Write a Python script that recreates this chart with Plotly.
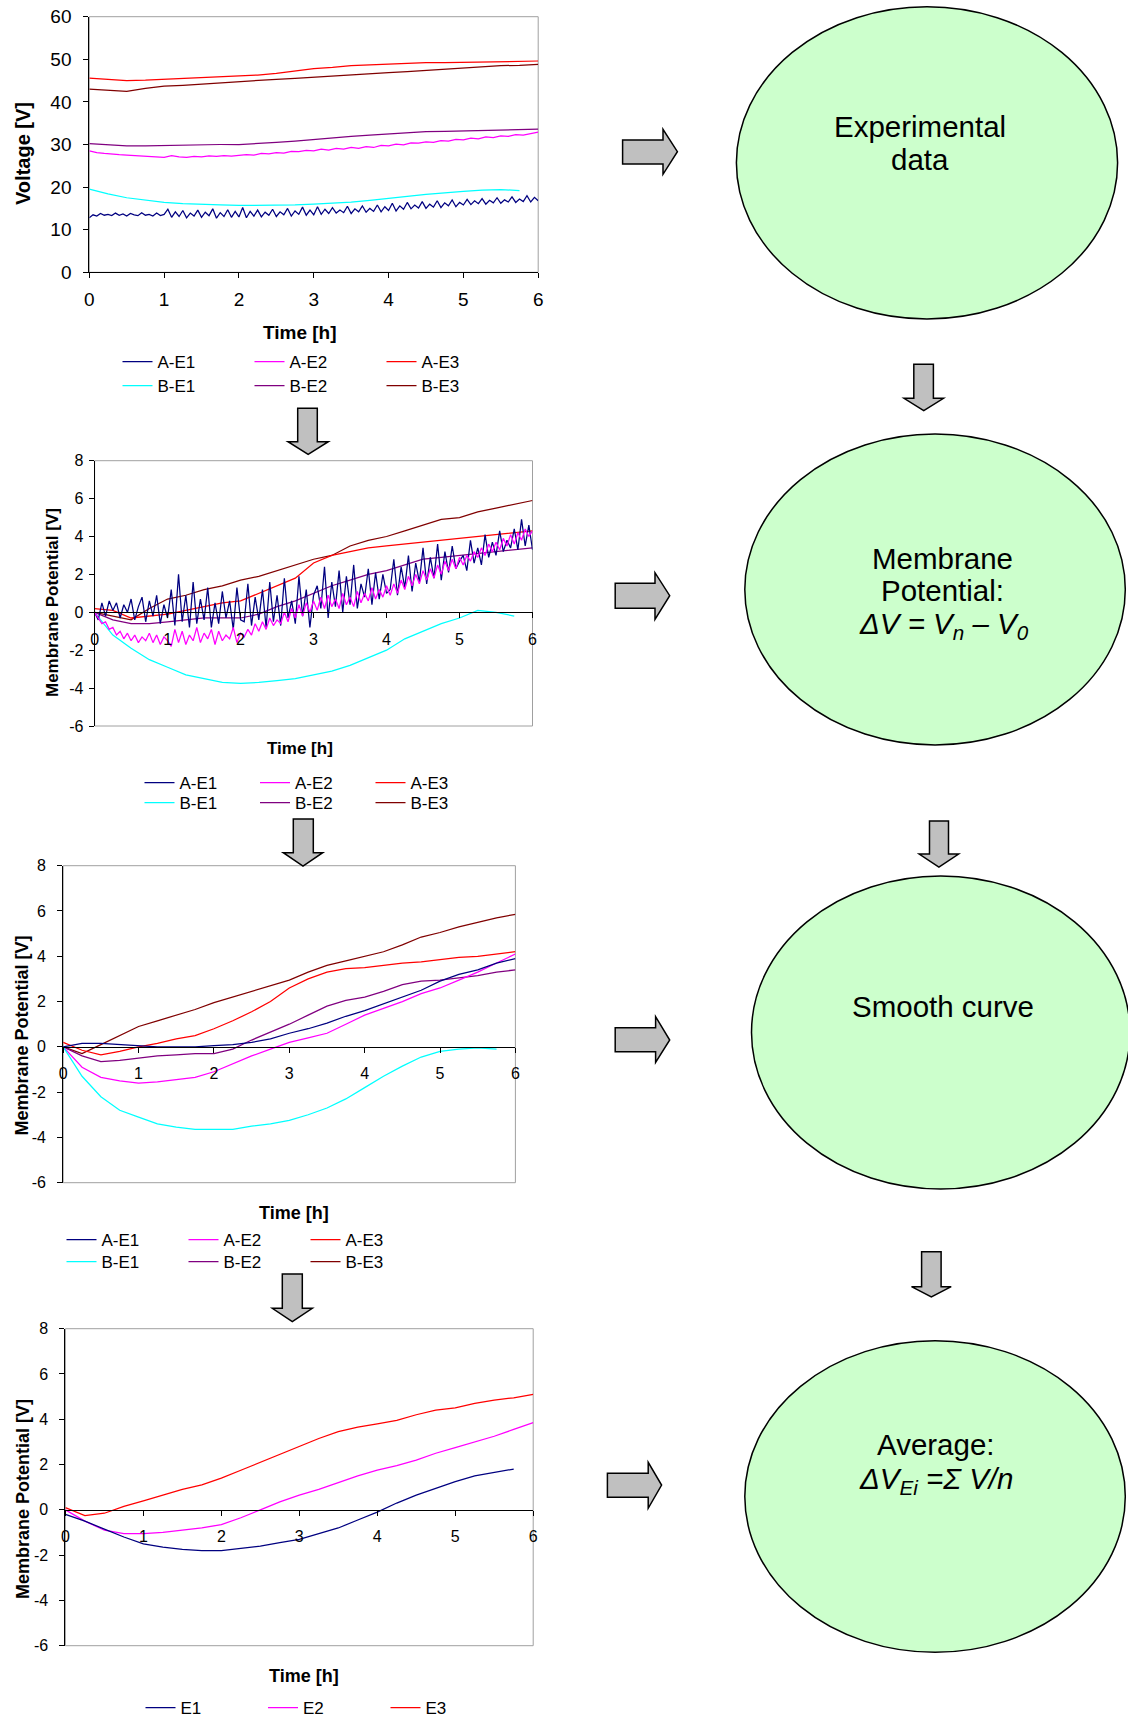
import numpy as np
import plotly.graph_objects as go

W, H = 1128, 1726
FONT = "Liberation Sans, Arial, sans-serif"

# ---------------- data ----------------
T25 = [0, 0.25, 0.5, 0.75, 1, 1.25, 1.5, 1.75, 2, 2.25, 2.5, 2.75, 3,
       3.25, 3.5, 3.75, 4, 4.25, 4.5, 4.75, 5, 5.25, 5.5, 5.75, 6]
T24 = T25[:24]  # series that end at 5.75 h

X_TICKS = [0, 1, 2, 3, 4, 5, 6]
V_TICKS = [0, 10, 20, 30, 40, 50, 60]
MP_TICKS = [-6, -4, -2, 0, 2, 4, 6, 8]
MP_TICK_LABELS = ["-6", "-4", "-2", "0", "2", "4", "6", "8"]

SERIES = ["A-E1", "A-E2", "A-E3", "B-E1", "B-E2", "B-E3"]
AVG_SERIES = ["E1", "E2", "E3"]
COLORS = {"A-E1": "#000080", "A-E2": "#FF00FF", "A-E3": "#FF0000",
          "B-E1": "#00FFFF", "B-E2": "#800080", "B-E3": "#800000",
          "E1": "#000080", "E2": "#FF00FF", "E3": "#FF0000"}

# Chart 1 : raw voltage [V]
v_AE1 = [12.8, 13.5, 13.2, 13.8, 13.4, 13.6, 13.3, 13.9, 13.4, 13.7, 13.2, 13.8, 13.5, 13.3, 14.0, 13.4, 13.6, 13.2, 13.9, 13.3, 13.6,
         14.8, 12.9, 14.2, 13.1, 14.5, 12.8, 13.9, 13.2, 14.6, 12.9, 14.1, 13.3, 14.9, 12.7, 14.0, 13.1, 14.7, 12.9, 14.3, 13.0,
         15.2, 12.8, 14.3, 13.2, 14.6, 13.0, 14.1, 13.4, 14.8, 13.1, 14.2, 13.5, 15.0, 13.2, 14.4, 13.6, 15.3, 13.4, 14.6, 13.5,
         15.4, 13.6, 14.8, 13.8, 15.2, 13.9, 14.6, 14.0, 15.5, 13.8, 14.9, 14.2, 15.6, 14.1, 15.0, 14.3, 15.8, 14.2, 15.4, 14.5,
         16.2, 14.4, 15.6, 14.8, 16.4, 14.9, 15.8, 15.1, 16.6, 15.0, 16.0, 15.3, 16.8, 15.2, 16.3, 15.6, 17.0, 15.4, 16.4, 15.8,
         17.1, 15.9, 16.8, 16.1, 17.3, 16.0, 16.9, 16.3, 17.5, 16.2, 17.0, 16.5, 17.7, 16.4, 17.2, 16.6, 18.0, 16.5, 17.6, 16.8]
v_AE2 = [28.5, 28.1, 27.9, 27.7, 27.6, 27.5, 27.4, 27.3, 27.2, 27.1, 27.0, 27.4, 27.1, 27.0, 27.2, 27.1, 27.3, 27.2, 27.4, 27.3, 27.4,
         27.6, 27.5, 27.9, 27.8, 28.1, 28.0, 28.4, 28.3, 28.6, 28.5,
         28.9, 28.7, 29.1, 28.9, 29.3, 29.1, 29.5, 29.3, 29.8, 29.7,
         30.1, 29.9, 30.4, 30.3, 30.6, 30.5, 30.9, 30.8, 31.2, 31.1,
         31.5, 31.3, 31.8, 31.6, 32.0, 31.9, 32.3, 32.2, 32.6, 32.9]
v_AE3 = [45.6, 45.3, 45.0, 45.1, 45.3, 45.4, 45.6, 45.8, 46.0, 46.3, 46.7, 47.2, 47.8,
         48.1, 48.5, 48.7, 48.9, 49.0, 49.2, 49.2, 49.3, 49.4, 49.4, 49.5, 49.6]
v_BE1 = [19.5, 18.4, 17.5, 16.9, 16.4, 16.1, 15.9, 15.8, 15.7, 15.7, 15.7, 15.8,
         16.0, 16.2, 16.5, 16.9, 17.3, 17.8, 18.3, 18.7, 19.0, 19.3, 19.4, 19.2]
v_BE2 = [30.2, 29.9, 29.7, 29.7, 29.8, 29.9, 29.9, 30.0, 30.0, 30.2, 30.5, 30.8, 31.2,
         31.5, 31.9, 32.2, 32.5, 32.7, 33.0, 33.1, 33.2, 33.3, 33.4, 33.5, 33.6]
v_BE3 = [43.0, 42.8, 42.5, 43.2, 43.7, 43.9, 44.2, 44.5, 44.8, 45.0, 45.3, 45.5, 45.8,
         46.1, 46.4, 46.6, 46.9, 47.1, 47.4, 47.7, 48.0, 48.2, 48.5, 48.6, 48.8]

# Chart 2 : membrane potential dV = Vn - V0 [V]
m_AE1 = [0, -0.4, 0.5, -0.2, 0.6, 0.1, 0.5, -0.3, 0.4, 0.0, 0.7, -0.4, 0.3, 0.8, -0.5, 0.6, -0.2, 0.9, -0.6, 0.4, -0.3,
         1.2, -0.7, 2.0, -0.5, 0.9, -0.8, 1.6, -0.6, 0.7, -0.4, 1.3, -0.8, 0.5, -0.6, 1.1, -0.3, 0.6, -0.9, 1.3, -0.4,
         -0.5, 1.5, -0.7, 0.8, -0.4, 1.2, -0.8, 1.6, -0.5, 0.9, -0.7, 1.8, -0.3, 0.6, -0.6, 1.9, -0.2, 1.2, -0.8, 0.9,
         1.4, 0.2, 2.4, -0.3, 1.6, 0.3, 2.2, 0.0, 1.9, 0.4, 2.5, 0.2, 1.5, 0.8, 2.3, 0.4, 2.1, 0.7, 2.0, 1.0,
         1.2, 2.8, 0.9, 2.4, 1.3, 3.0, 1.1, 2.6, 1.6, 3.4, 1.5, 2.9, 1.8, 3.6, 1.7, 3.2, 2.1, 3.5, 2.3, 2.7,
         3.0, 2.2, 3.8, 2.6, 3.4, 2.5, 4.1, 2.9, 3.7, 3.0, 4.3, 3.2, 3.8, 3.4, 4.4, 3.3, 4.9, 3.5, 4.6, 3.3]
m_AE2 = [0, -0.3, -0.6, -0.5, -0.9, -0.8, -1.2, -1.0, -1.4, -1.1, -1.5, -1.2, -1.6, -1.3, -1.5, -1.1, -1.6, -1.2, -1.7, -1.3, -1.5,
         -1.8, -0.9, -1.6, -1.0, -1.7, -1.2, -1.5, -0.8, -1.6, -1.1, -1.4, -0.9, -1.7, -1.0, -1.5, -1.2, -1.4, -0.8, -1.6, -1.1,
         -1.3, -0.9, -1.2, -0.6, -1.0, -0.5, -0.9, -0.3, -0.7, -0.4, -0.6, 0.0, -0.5, 0.2, -0.3, 0.4, -0.2, 0.5, 0.0, 0.6,
         0.1, 0.8, 0.2, 0.9, 0.3, 0.7, 0.2, 1.0, 0.4, 0.8, 0.3, 1.1, 0.5, 1.0, 0.6, 1.3, 0.7, 1.2, 0.8, 1.4,
         0.9, 1.5, 1.0, 1.7, 1.2, 1.9, 1.4, 2.0, 1.5, 2.2, 1.7, 2.3, 1.8, 2.5, 2.0, 2.7, 2.2, 2.8, 2.3, 2.9,
         2.5, 3.0, 2.7, 3.2, 2.9, 3.4, 3.0, 3.6, 3.2, 3.7, 3.3, 3.9, 3.5, 4.1, 3.6, 4.2, 3.8, 4.4, 4.0, 4.3]
m_AE3 = [0.2, 0.1, -0.3, -0.2, -0.1, 0.1, 0.3, 0.5, 0.6, 1.0, 1.4, 1.8, 2.6,
         3.0, 3.2, 3.4, 3.5, 3.6, 3.7, 3.8, 3.9, 4.0, 4.1, 4.2, 4.3]
m_BE1 = [0.0, -1.2, -1.9, -2.5, -2.9, -3.3, -3.5, -3.7, -3.75, -3.7, -3.6, -3.5,
         -3.3, -3.1, -2.8, -2.4, -2.0, -1.4, -1.0, -0.6, -0.3, 0.1, 0.0, -0.2]
m_BE2 = [0.0, -0.4, -0.6, -0.6, -0.5, -0.4, -0.3, -0.3, -0.3, -0.1, 0.3, 0.6, 1.0,
         1.4, 1.7, 2.0, 2.2, 2.5, 2.8, 2.9, 3.0, 3.1, 3.2, 3.3, 3.4]
m_BE3 = [0.0, -0.2, -0.4, 0.2, 0.7, 0.9, 1.2, 1.4, 1.7, 1.9, 2.2, 2.5, 2.8,
         3.0, 3.5, 3.8, 4.0, 4.3, 4.6, 4.9, 5.0, 5.3, 5.5, 5.7, 5.9]

# Chart 3 : smoothed membrane potential [V]
s_AE1 = [0.0, 0.15, 0.15, 0.1, 0.05, 0.0, 0.0, 0.0, 0.05, 0.1, 0.2, 0.35, 0.6,
         0.8, 1.05, 1.35, 1.6, 1.9, 2.2, 2.5, 2.9, 3.2, 3.4, 3.7, 3.9]
s_AE2 = [0.0, -0.9, -1.35, -1.5, -1.6, -1.55, -1.45, -1.35, -1.1, -0.75, -0.4, -0.1, 0.2,
         0.4, 0.6, 1.0, 1.4, 1.7, 2.0, 2.35, 2.6, 2.95, 3.3, 3.7, 4.1]
s_AE3 = [0.2, -0.15, -0.35, -0.2, 0.0, 0.15, 0.35, 0.5, 0.8, 1.15, 1.55, 2.0, 2.6,
         3.0, 3.3, 3.45, 3.5, 3.6, 3.7, 3.75, 3.85, 3.95, 4.0, 4.1, 4.2]
s_BE1 = [0.0, -1.3, -2.2, -2.8, -3.1, -3.4, -3.55, -3.65, -3.65, -3.65, -3.5, -3.4,
         -3.25, -3.0, -2.7, -2.3, -1.8, -1.3, -0.85, -0.45, -0.2, -0.1, -0.05, -0.1]
s_BE2 = [0.0, -0.4, -0.65, -0.6, -0.5, -0.4, -0.35, -0.3, -0.3, -0.1, 0.3, 0.65, 1.0,
         1.4, 1.8, 2.05, 2.2, 2.45, 2.75, 2.9, 2.95, 3.05, 3.15, 3.3, 3.4]
s_BE3 = [0.0, -0.3, 0.1, 0.5, 0.9, 1.15, 1.4, 1.65, 1.95, 2.2, 2.45, 2.7, 2.95,
         3.3, 3.6, 3.8, 4.0, 4.2, 4.5, 4.85, 5.05, 5.3, 5.5, 5.7, 5.85]

# Chart 4 : average per electrode [V]
a_E1 = [-0.2, -0.5, -0.85, -1.2, -1.5, -1.65, -1.75, -1.8, -1.8, -1.7, -1.6, -1.45,
        -1.3, -1.05, -0.8, -0.45, -0.1, 0.3, 0.65, 0.95, 1.25, 1.5, 1.65, 1.8]
a_E2 = [0.0, -0.5, -0.9, -1.05, -1.05, -1.0, -0.9, -0.8, -0.65, -0.35, 0.0, 0.35, 0.65,
        0.9, 1.2, 1.5, 1.75, 1.95, 2.2, 2.5, 2.75, 3.0, 3.25, 3.55, 3.85]
a_E3 = [0.1, -0.25, -0.15, 0.15, 0.4, 0.65, 0.9, 1.1, 1.4, 1.75, 2.1, 2.45, 2.8,
        3.15, 3.45, 3.65, 3.8, 3.95, 4.2, 4.4, 4.5, 4.7, 4.85, 4.95, 5.1]

# Flow-diagram step labels (one entry per line)
STEP_LINES = [
    ["Experimental", "data"],
    ["Membrane", "Potential:", "<i>ΔV = V<sub>n</sub> – V<sub>0</sub></i>"],
    ["Smooth curve"],
    ["Average:", "<i>ΔV<sub>Ei</sub> =Σ V/n</i>"],
]


def tgrid(vals, end):
    if len(vals) == 25 and end == 6:
        return T25
    if len(vals) == 24 and end == 5.75:
        return T24
    return list(np.linspace(0, end, len(vals)))


CHART_DATA = [
    {"A-E1": (v_AE1, 6), "A-E2": (v_AE2, 6), "A-E3": (v_AE3, 6),
     "B-E1": (v_BE1, 5.75), "B-E2": (v_BE2, 6), "B-E3": (v_BE3, 6)},
    {"A-E1": (m_AE1, 6), "A-E2": (m_AE2, 6), "A-E3": (m_AE3, 6),
     "B-E1": (m_BE1, 5.75), "B-E2": (m_BE2, 6), "B-E3": (m_BE3, 6)},
    {"A-E1": (s_AE1, 6), "A-E2": (s_AE2, 6), "A-E3": (s_AE3, 6),
     "B-E1": (s_BE1, 5.75), "B-E2": (s_BE2, 6), "B-E3": (s_BE3, 6)},
    {"E1": (a_E1, 5.75), "E2": (a_E2, 6), "E3": (a_E3, 6)},
]
# drawing order (back to front)
DRAW_ORDER = [
    ["B-E3", "A-E3", "B-E2", "A-E2", "B-E1", "A-E1"],
    ["B-E3", "A-E3", "B-E2", "B-E1", "A-E1", "A-E2"],
    ["B-E3", "A-E3", "B-E2", "A-E2", "B-E1", "A-E1"],
    ["E3", "E2", "E1"],
]


def px(x):
    return x / W


def py(y):
    return 1 - y / H


# ---------------- layout geometry (pixels) ----------------
CHARTS = [
    dict(box=(89.3, 16.7, 538.2, 272.3), yr=(0, 60), yt=(V_TICKS, [str(v) for v in V_TICKS]),
         tf=19, free=False, ystand=8, xstand=5,
         ytitle=("Voltage [V]", 23, 154, 20), xtitle=("Time [h]", 300, 332, 19),
         legrows=[(["A-E1", "A-E2", "A-E3"], 362), (["B-E1", "B-E2", "B-E3"], 386)],
         legx=122.5, legstride=132),
    dict(box=(94.6, 460.7, 532.5, 726), yr=(-6, 8), yt=(MP_TICKS, MP_TICK_LABELS),
         tf=16, free=True, ystand=2, xstand=7,
         ytitle=("Membrane Potential [V]", 52, 603, 17), xtitle=("Time [h]", 300, 748, 17),
         legrows=[(["A-E1", "A-E2", "A-E3"], 783), (["B-E1", "B-E2", "B-E3"], 803)],
         legx=144.5, legstride=115.5),
    dict(box=(63.2, 865.7, 515.4, 1182.7), yr=(-6, 8), yt=(MP_TICKS, MP_TICK_LABELS),
         tf=16, free=True, ystand=8, xstand=7,
         ytitle=("Membrane Potential [V]", 21.5, 1036, 18), xtitle=("Time [h]", 294, 1213, 18),
         legrows=[(["A-E1", "A-E2", "A-E3"], 1240), (["B-E1", "B-E2", "B-E3"], 1262)],
         legx=66.5, legstride=122),
    dict(box=(65.4, 1328.7, 533.2, 1645.7), yr=(-6, 8), yt=(MP_TICKS, MP_TICK_LABELS),
         tf=16, free=True, ystand=8, xstand=7,
         ytitle=("Membrane Potential [V]", 23, 1499, 18), xtitle=("Time [h]", 304, 1676, 18),
         legrows=[(["E1", "E2", "E3"], None)],
         legx=145.5, legstride=122.5),
]

fig = go.Figure()
layout = dict(template="none", width=W, height=H, margin=dict(l=0, r=0, t=0, b=0, pad=0),
              autosize=False,
              paper_bgcolor="white", plot_bgcolor="white",
              font=dict(family=FONT, color="black"), showlegend=True)
annotations = []
shapes = []
leg_counter = 0

for ci, ch in enumerate(CHARTS):
    k = ci + 1
    xn = "x" if k == 1 else f"x{k}"
    yn = "y" if k == 1 else f"y{k}"
    xl = "xaxis" if k == 1 else f"xaxis{k}"
    yl = "yaxis" if k == 1 else f"yaxis{k}"
    x0, y0, x1, y1 = ch["box"]
    ydom = [py(y1), py(y0)]
    lo, hi = ch["yr"]

    # legends for this chart (one legend per row, 3 entries each)
    leg_of = {}
    for names, rowy in ch["legrows"]:
        leg_counter += 1
        lname = "legend" if leg_counter == 1 else f"legend{leg_counter}"
        for n in names:
            leg_of[n] = lname
        if rowy is None:   # bottom row: keep it inside the page
            ypos, yanc = 0.0, "bottom"
        else:
            ypos, yanc = py(rowy), "middle"
        layout[lname] = dict(x=px(ch["legx"] - 5), xanchor="left", y=ypos, yanchor=yanc,
                             orientation="h", entrywidth=ch["legstride"] - 45,
                             entrywidthmode="pixels", font=dict(size=17, family=FONT, color="black"),
                             bgcolor="rgba(0,0,0,0)", borderwidth=0, traceorder="normal",
                             itemclick=False, itemdoubleclick=False)
    data = CHART_DATA[ci]
    order = DRAW_ORDER[ci]
    legend_order = [n for names, _ in ch["legrows"] for n in names]
    for n in order:
        vals, end = data[n]
        fig.add_trace(go.Scatter(
            x=tgrid(vals, end), y=vals, mode="lines", name=n,
            line=dict(color=COLORS[n], width=1.25),
            xaxis=xn, yaxis=yn, legend=leg_of[n],
            legendrank=1000 + legend_order.index(n), hoverinfo="skip"))

    xa = dict(domain=[px(x0), px(x1)], range=[0, 6], tickmode="array",
              tickvals=X_TICKS, ticktext=[str(v) for v in X_TICKS], automargin=False,
              showgrid=False, zeroline=False, showline=True, linecolor="black", linewidth=1,
              ticks="outside", ticklen=5, tickcolor="black", tickwidth=1,
              tickfont=dict(size=ch["tf"], family=FONT, color="black"),
              ticklabelstandoff=ch["xstand"], fixedrange=True)
    if ch["free"]:
        frac = (0 - lo) / (hi - lo)
        xa.update(anchor="free", position=ydom[0] + frac * (ydom[1] - ydom[0]))
    else:
        xa.update(anchor=yn)
    ya = dict(domain=ydom, range=[lo, hi], tickmode="array",
              tickvals=ch["yt"][0], ticktext=ch["yt"][1], anchor=xn, automargin=False,
              showgrid=False, zeroline=False, showline=True, linecolor="black", linewidth=1,
              ticks="outside", ticklen=5, tickcolor="black", tickwidth=1,
              tickfont=dict(size=ch["tf"], family=FONT, color="black"),
              ticklabelstandoff=ch["ystand"], fixedrange=True)
    layout[xl] = xa
    layout[yl] = ya

    # plot-area frame (light gray)
    shapes.append(dict(type="rect", xref="paper", yref="paper",
                       x0=px(x0), x1=px(x1), y0=ydom[0], y1=ydom[1],
                       line=dict(color="#A0A0A0", width=1), fillcolor="rgba(0,0,0,0)", layer="below"))

    t, tx, ty, fs = ch["ytitle"]
    annotations.append(dict(text=f"<b>{t}</b>", x=px(tx), y=py(ty), xref="paper", yref="paper",
                            textangle=-90, showarrow=False, xanchor="center", yanchor="middle",
                            font=dict(size=fs, family=FONT, color="black")))
    t, tx, ty, fs = ch["xtitle"]
    annotations.append(dict(text=f"<b>{t}</b>", x=px(tx), y=py(ty), xref="paper", yref="paper",
                            showarrow=False, xanchor="center", yanchor="middle",
                            font=dict(size=fs, family=FONT, color="black")))

# ---------------- flow diagram (right side) ----------------
ELLIPSES = [(736.4, 6.7, 1117.6, 319), (744.8, 434, 1125.3, 745),
            (751.5, 876, 1130, 1189), (744.8, 1340.7, 1125.3, 1652.3)]
for ex0, ey0, ex1, ey1 in ELLIPSES:
    shapes.append(dict(type="circle", xref="paper", yref="paper",
                       x0=px(ex0), x1=px(ex1), y0=py(ey1), y1=py(ey0),
                       fillcolor="#CCFFCC", line=dict(color="black", width=1.5), layer="above"))

# (center x, y of each line) in pixels
STEP_POS = [
    [(920, 126.6), (920, 159.6)],
    [(942.6, 558), (942.6, 591), (943.7, 625)],
    [(942.6, 1006.7)],
    [(935.5, 1444), (936, 1480.7)],
]
for lines, poss in zip(STEP_LINES, STEP_POS):
    for t, (tx, ty) in zip(lines, poss):
        annotations.append(dict(text=t, x=px(tx), y=py(ty), xref="paper", yref="paper",
                                showarrow=False, xanchor="center", yanchor="middle", align="center",
                                font=dict(size=29.5, family=FONT, color="black")))


def right_arrow(xl, xh, xt, ty, bt, bb, ht, hb):
    pts = [(xl, bt), (xh, bt), (xh, ht), (xt, ty), (xh, hb), (xh, bb), (xl, bb)]
    return "M " + " L ".join(f"{px(a):.5f},{py(b):.5f}" for a, b in pts) + " Z"


def down_arrow(bl, br, top, hs, hl, hr, tip):
    pts = [(bl, top), (br, top), (br, hs), (hr, hs), ((hl + hr) / 2, tip), (hl, hs), (bl, hs)]
    return "M " + " L ".join(f"{px(a):.5f},{py(b):.5f}" for a, b in pts) + " Z"


ARROW_PATHS = [
    right_arrow(622.6, 663, 677.4, 151.7, 140, 164, 129.3, 174.3),
    right_arrow(615.2, 655, 669.7, 595.7, 583.3, 608.3, 572.7, 619.3),
    right_arrow(615.2, 655.6, 669.7, 1040, 1027.7, 1051.7, 1016.7, 1062.3),
    right_arrow(607.4, 648.2, 661.6, 1485, 1473.3, 1497.3, 1462.3, 1508.3),
    down_arrow(913.8, 933.4, 364.3, 398.3, 904, 943.5, 410.7),
    down_arrow(929.5, 948.5, 821, 854, 919.2, 958.6, 867),
    down_arrow(921.6, 941.1, 1251.7, 1286.7, 911.5, 951.2, 1297),
    down_arrow(297.7, 317.3, 408.3, 441.7, 288, 328.3, 454.3),
    down_arrow(293.3, 313.3, 819, 852.7, 283.3, 322.7, 866),
    down_arrow(282.3, 302.3, 1274, 1308.3, 272.3, 312.3, 1321.7),
]
for p in ARROW_PATHS:
    shapes.append(dict(type="path", path=p, xref="paper", yref="paper",
                       fillcolor="#C0C0C0", line=dict(color="black", width=1.5), layer="above"))

layout["annotations"] = annotations
layout["shapes"] = shapes
fig.update_layout(**layout)
fig.write_html("out.html", config={"displayModeBar": False},
               post_script="document.body.style.margin='0px';")
